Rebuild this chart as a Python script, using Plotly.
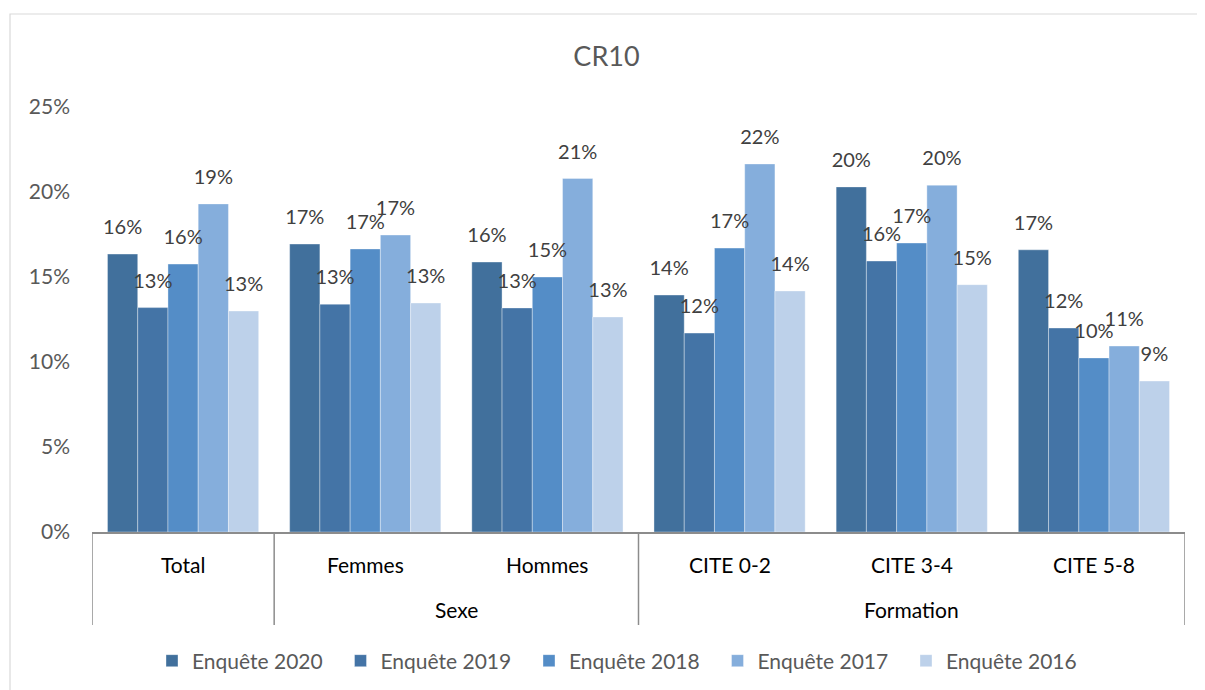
import plotly.graph_objects as go

title = "CR10"
groups = ["", "Sexe", "Sexe", "Formation", "Formation", "Formation"]
categories = ["Total", "Femmes", "Hommes", "CITE 0-2", "CITE 3-4", "CITE 5-8"]
series_names = ["Enquête 2020", "Enquête 2019", "Enquête 2018", "Enquête 2017", "Enquête 2016"]
v2020 = [0.1635, 0.1694, 0.1588, 0.1394, 0.2030, 0.1660]
v2019 = [0.1320, 0.1340, 0.1318, 0.1170, 0.1594, 0.1200]
v2018 = [0.1576, 0.1665, 0.1500, 0.1670, 0.1700, 0.1024]
v2017 = [0.1930, 0.1747, 0.2080, 0.2165, 0.2040, 0.1094]
v2016 = [0.1300, 0.1347, 0.1265, 0.1418, 0.1455, 0.0888]
series_values = [v2020, v2019, v2018, v2017, v2016]
colors = ["#41709C", "#4474A6", "#548DC7", "#85AEDC", "#BDD1EA"]
y_ticks = [0, 0.05, 0.10, 0.15, 0.20, 0.25]
y_tick_text = ["0%", "5%", "10%", "15%", "20%", "25%"]

FONT = "Lato, 'Open Sans', sans-serif"
W, H = 1197, 682
ML, MT, MR, MB = 84, 99, 20, 158
PW, PH = W - ML - MR, H - MT - MB

fig = go.Figure()
for name, vals, col in zip(series_names, series_values, colors):
    fig.add_trace(go.Bar(
        x=categories, y=vals, name=name, marker_color=col,
        marker_line=dict(color="rgba(255,255,255,0.6)", width=0.6),
        offsetgroup=name, legendgroup=name,
    ))
for name, vals in zip(series_names, series_values):
    fig.add_trace(go.Scatter(
        x=categories, y=vals, mode="markers+text", showlegend=False,
        offsetgroup=name, legendgroup=name,
        text=[f"{round(v*100):.0f}%" for v in vals],
        textposition="top center",
        textfont=dict(family=FONT, size=20, color="#404040"),
        marker=dict(size=22, opacity=0), hoverinfo="skip",
    ))

fig.update_layout(
    width=W, height=H,
    margin=dict(l=ML, r=MR, t=MT, b=MB, autoexpand=False),
    paper_bgcolor="white", plot_bgcolor="white",
    barmode="group", bargap=0.17, bargroupgap=0,
    scattermode="group", scattergap=0.17,
    title=dict(text=title, x=0.5, xanchor="center", y=1 - 49 / H, yanchor="middle",
               font=dict(family=FONT, size=27, color="#595959")),
    font=dict(family=FONT, color="#595959"),
    legend=dict(orientation="h", x=(623.5 - 92) / PW, xanchor="center",
                y=(524 - 653) / PH, yanchor="middle",
                font=dict(family=FONT, size=21, color="#595959"),
                entrywidth=143.5, entrywidthmode="pixels", traceorder="normal"),
    showlegend=True,
)
fig.update_yaxes(range=[0, 0.25], tickvals=y_ticks, ticktext=y_tick_text,
                 showgrid=False, zeroline=False, showline=False,
                 tickfont=dict(family=FONT, size=21, color="#595959"),
                 ticklabelstandoff=21)
fig.update_xaxes(type="category", range=[-0.5, len(categories) - 0.5],
                 showline=True, linecolor="#8C8C8C", linewidth=1.5,
                 showticklabels=False, showgrid=False, ticks="")

# hierarchical axis: category labels, group labels, dividers
div_bottom = -93 / PH
for c in categories:
    fig.add_annotation(x=c, y=-32 / PH, xref="x", yref="paper", text=c, showarrow=False,
                       font=dict(family=FONT, size=21, color="#000000"), yanchor="middle")
bounds = [-0.5]
spans = []
start = 0
for i in range(1, len(groups) + 1):
    if i == len(groups) or groups[i] != groups[start]:
        spans.append((groups[start], start, i - 1))
        bounds.append(i - 0.5)
        start = i
for g, a, b in spans:
    if g:
        fig.add_annotation(x=(a + b) / 2, y=-77 / PH, xref="x", yref="paper", text=g,
                           showarrow=False, yanchor="middle",
                           font=dict(family=FONT, size=21, color="#000000"))
for bx in bounds:
    fig.add_shape(type="line", xref="x", yref="paper", x0=bx, x1=bx, y0=0, y1=div_bottom,
                  line=dict(color="#8C8C8C", width=1.5))

fig.add_shape(type="rect", xref="paper", yref="paper",
              x0=(2 - ML) / PW, x1=(W + 10 - ML) / PW,
              y0=(MT + PH - H - 10) / PH, y1=(MT + PH - 6) / PH,
              line=dict(color="#D9D9D9", width=1.2), fillcolor="rgba(0,0,0,0)", layer="below")

fig.write_html("out.html")
